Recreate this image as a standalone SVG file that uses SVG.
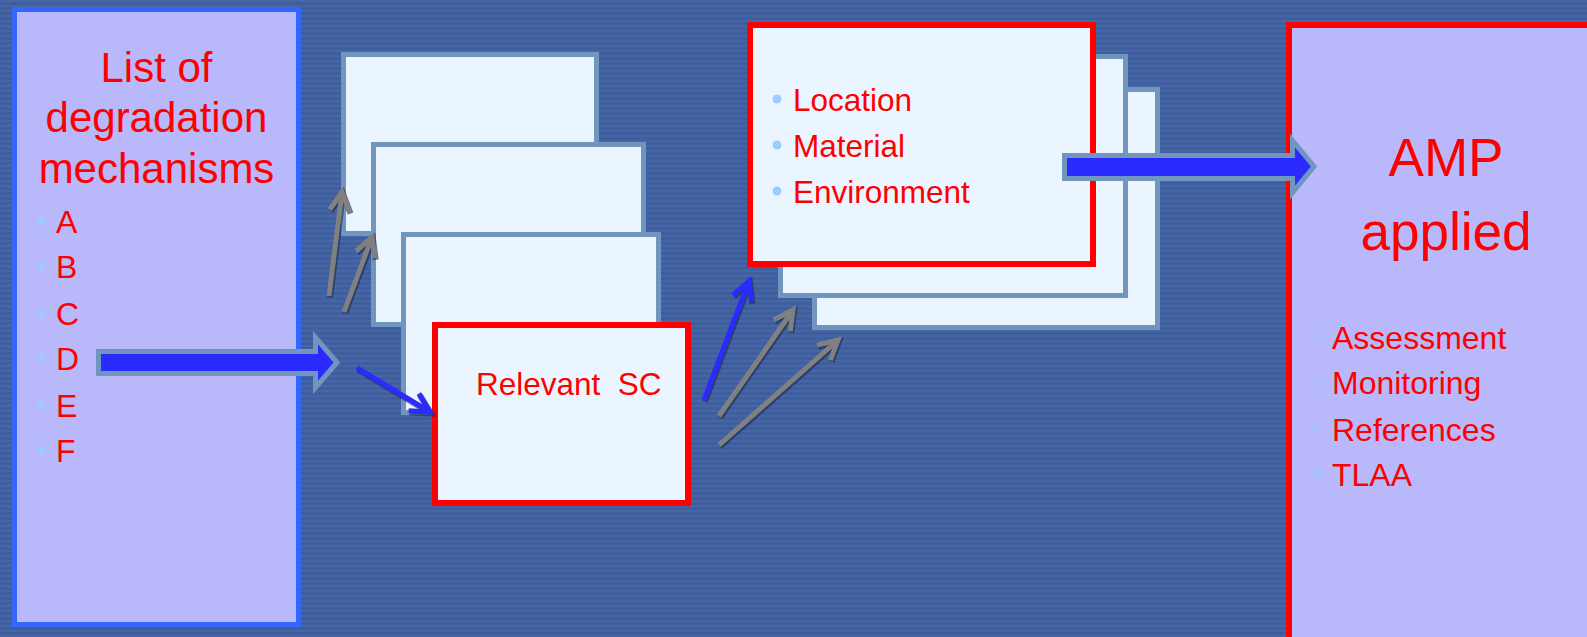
<svg xmlns="http://www.w3.org/2000/svg" width="1587" height="637" viewBox="0 0 1587 637">
<defs>
<pattern id="stripes" width="8" height="5" patternUnits="userSpaceOnUse">
<rect width="8" height="5" fill="#3F5E9D"/>
<rect y="0" width="8" height="2" fill="#4766A6"/>
</pattern>
<marker id="hg" markerUnits="userSpaceOnUse" markerWidth="50" markerHeight="50" refX="0" refY="0" viewBox="-25 -25 50 50" orient="auto" overflow="visible">
<path d="M-19,-10 L0,0 L-19,10" fill="none" stroke="#808080" stroke-width="5" stroke-linejoin="miter"/>
</marker>
<marker id="hb" markerUnits="userSpaceOnUse" markerWidth="50" markerHeight="50" refX="0" refY="0" viewBox="-25 -25 50 50" orient="auto" overflow="visible">
<path d="M-19,-10 L0,0 L-19,10" fill="none" stroke="#2B2BFF" stroke-width="5" stroke-linejoin="miter"/>
</marker>
<marker id="hs" markerUnits="userSpaceOnUse" markerWidth="50" markerHeight="50" refX="0" refY="0" viewBox="-25 -25 50 50" orient="auto" overflow="visible">
<path d="M-19,-10 L0,0 L-19,10" fill="none" stroke="#1A2A50" stroke-width="6" stroke-linejoin="miter"/>
</marker>
</defs>
<style>
.t{font-family:"Liberation Sans",Arial,sans-serif;fill:#FF0000}
.card{fill:#EBF5FF;stroke:#7096C0;stroke-width:5}
.redcard{fill:#EBF5FF;stroke:#FF0000;stroke-width:6}
.panel{fill:#B8B8FA}
.dot{fill:#99CCFF}
.dot2{fill:#A6C4FA}
.big{fill:#2B2BFF;stroke:#7096C0;stroke-width:5;stroke-linejoin:miter}
.sh{stroke:#1A2A50;stroke-width:6;fill:none;opacity:0.6}
.ag{stroke:#808080;stroke-width:5;fill:none}
.ab{stroke:#2B2BFF;stroke-width:5;fill:none}
</style>
<rect width="1587" height="637" fill="url(#stripes)"/>

<g id="degradation-list">
<rect class="panel" x="14.5" y="9.5" width="284" height="615" stroke="#3366FF" stroke-width="5"/>
<text class="t" x="156.5" y="82" font-size="42" text-anchor="middle">List of</text>
<text class="t" x="156.5" y="132" font-size="42" text-anchor="middle">degradation</text>
<text class="t" x="156.5" y="183" font-size="42" text-anchor="middle">mechanisms</text>
<circle class="dot" cx="41" cy="221" r="4"/><text class="t" x="56" y="233" font-size="32">A</text>
<circle class="dot" cx="41" cy="266" r="4"/><text class="t" x="56" y="278" font-size="32">B</text>
<circle class="dot" cx="41" cy="313" r="4"/><text class="t" x="56" y="325" font-size="32">C</text>
<circle class="dot" cx="41" cy="358" r="4"/><text class="t" x="56" y="370" font-size="32">D</text>
<circle class="dot" cx="41" cy="405" r="4"/><text class="t" x="56" y="417" font-size="32">E</text>
<circle class="dot" cx="41" cy="450" r="4"/><text class="t" x="56" y="462" font-size="32">F</text>
</g>

<g id="sc-card-1"><rect class="card" x="343.5" y="54.5" width="253" height="179"/></g>
<g id="sc-card-2"><rect class="card" x="373.5" y="144.5" width="270" height="180"/></g>
<g id="sc-card-3"><rect class="card" x="403.5" y="234.5" width="255" height="178"/></g>
<g id="relevant-sc">
<rect class="redcard" x="435" y="325" width="253" height="178"/>
<text class="t" x="476" y="395" font-size="31.5" xml:space="preserve">Relevant  SC</text>
</g>

<g id="attr-card-back"><rect class="card" x="814.5" y="89.5" width="343" height="238"/></g>
<g id="attr-card-mid"><rect class="card" x="780.5" y="56.5" width="345" height="239"/></g>
<g id="attributes">
<rect class="redcard" x="750" y="25" width="343" height="239"/>
<circle class="dot" cx="777" cy="99" r="4.5"/><text class="t" x="793" y="111" font-size="31.5">Location</text>
<circle class="dot" cx="777" cy="145" r="4.5"/><text class="t" x="793" y="157" font-size="31.5">Material</text>
<circle class="dot" cx="777" cy="191" r="4.5"/><text class="t" x="793" y="203" font-size="31.5">Environment</text>
</g>

<g id="amp-applied">
<rect class="panel" x="1289" y="25" width="310" height="620" stroke="#FF0000" stroke-width="6"/>
<text class="t" x="1446" y="176" font-size="53" text-anchor="middle">AMP</text>
<text class="t" x="1446" y="250" font-size="53" text-anchor="middle">applied</text>
<circle class="dot2" cx="1317" cy="337" r="4"/><text class="t" x="1332" y="349" font-size="32">Assessment</text>
<circle class="dot2" cx="1317" cy="382" r="4"/><text class="t" x="1332" y="394" font-size="32">Monitoring</text>
<circle class="dot2" cx="1317" cy="429" r="4"/><text class="t" x="1332" y="441" font-size="32">References</text>
<circle class="dot2" cx="1317" cy="474" r="4"/><text class="t" x="1332" y="486" font-size="32">TLAA</text>
</g>

<g id="connectors">
<polygon class="big" points="98.5,351.5 315.5,351.5 315.5,337.5 337,362.5 315.5,387.5 315.5,373.5 98.5,373.5"/>
<polygon class="big" points="1064.5,155.5 1292.5,155.5 1292.5,140.5 1314,166.5 1292.5,192.5 1292.5,178.5 1064.5,178.5"/>
<g transform="translate(1,1.5)">
<line class="sh" x1="329" y1="296" x2="342" y2="192" marker-end="url(#hs)"/>
<line class="sh" x1="344" y1="312" x2="372" y2="237" marker-end="url(#hs)"/>
<line class="sh" x1="357" y1="368" x2="430" y2="412" marker-end="url(#hs)"/>
<line class="sh" x1="704" y1="400" x2="749" y2="281" marker-end="url(#hs)"/>
<line class="sh" x1="719" y1="416" x2="793" y2="310" marker-end="url(#hs)"/>
<line class="sh" x1="719" y1="445" x2="838" y2="340" marker-end="url(#hs)"/>
</g>
<line class="ag" x1="329" y1="296" x2="342" y2="192" marker-end="url(#hg)"/>
<line class="ag" x1="344" y1="312" x2="372" y2="237" marker-end="url(#hg)"/>
<line class="ab" x1="357" y1="368" x2="430" y2="412" marker-end="url(#hb)"/>
<line class="ab" x1="704" y1="400" x2="749" y2="281" marker-end="url(#hb)"/>
<line class="ag" x1="719" y1="416" x2="793" y2="310" marker-end="url(#hg)"/>
<line class="ag" x1="719" y1="445" x2="838" y2="340" marker-end="url(#hg)"/>
</g>
</svg>
